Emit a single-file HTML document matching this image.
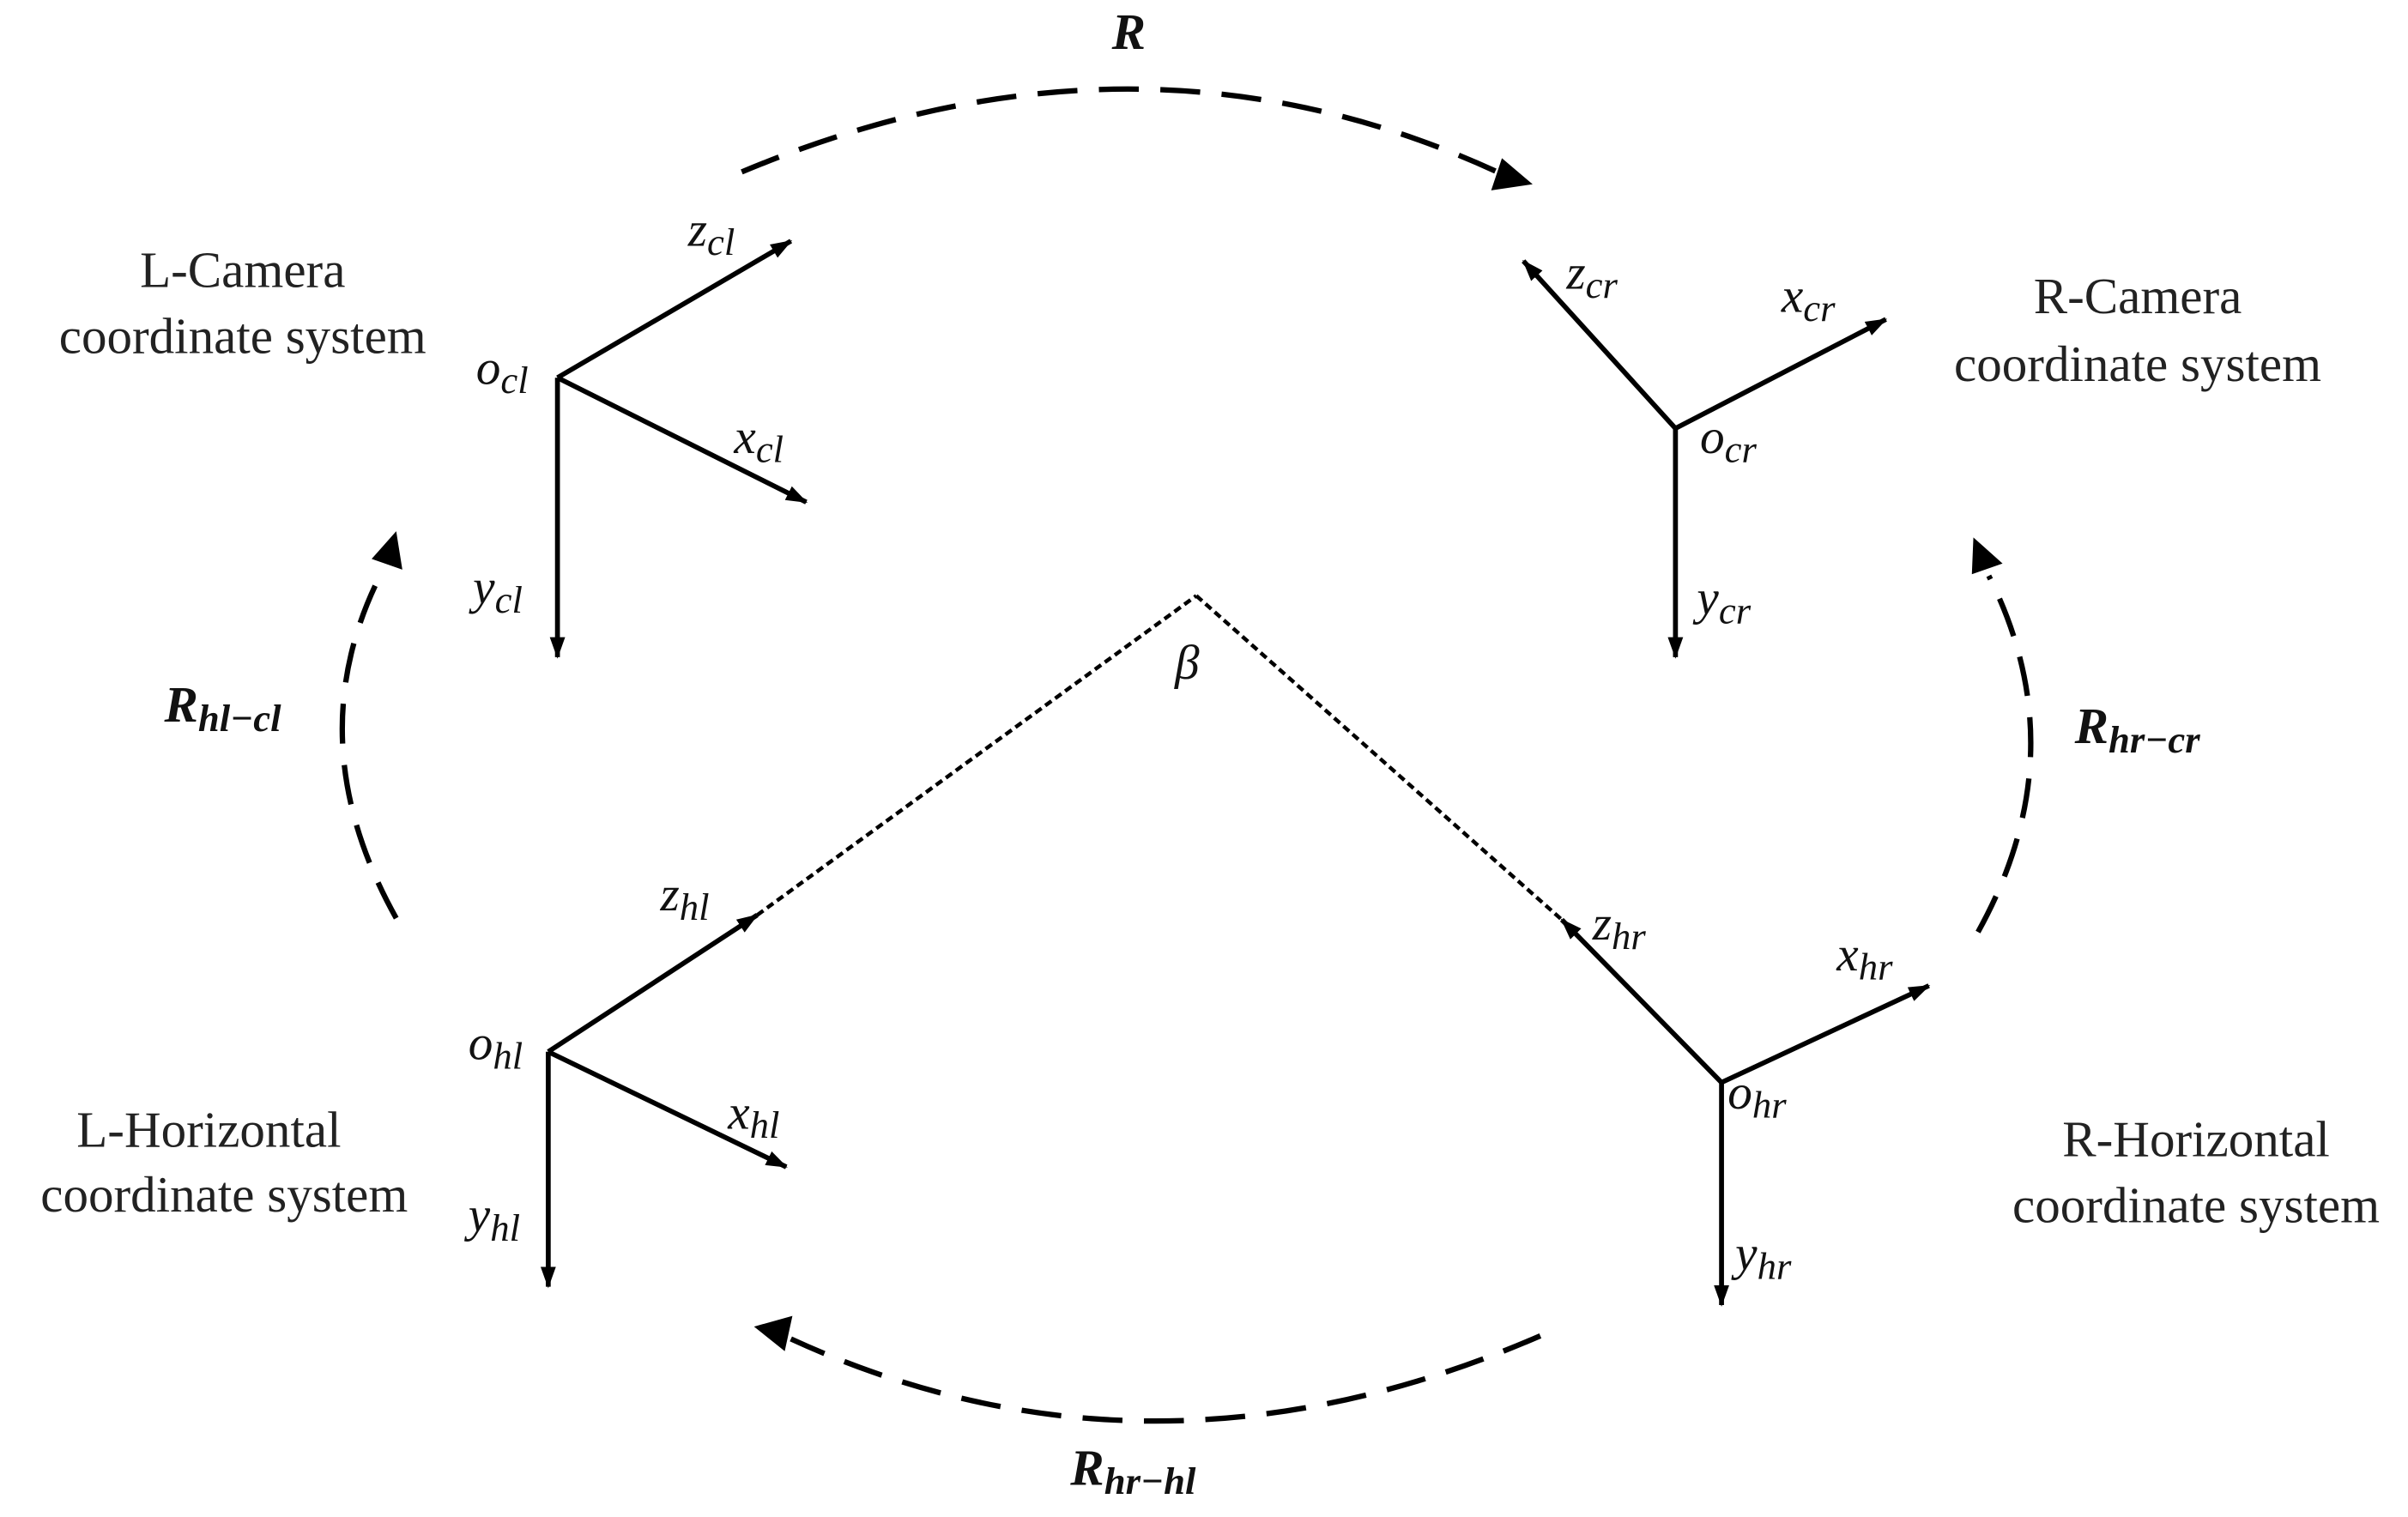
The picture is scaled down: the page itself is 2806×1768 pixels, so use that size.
<!DOCTYPE html>
<html><head><meta charset="utf-8"><style>
html,body{margin:0;padding:0;background:#fff;}
svg{display:block;}
.t{font-family:"Liberation Serif",serif;font-size:33px;fill:#222;}
.m{font-family:"Liberation Serif",serif;font-style:italic;font-size:32px;fill:#111;}
.s{font-size:25px;}
.b{font-family:"Liberation Serif",serif;font-style:italic;font-weight:bold;font-size:33px;fill:#111;}
</style></head><body>
<svg width="2806" height="1768" viewBox="0 0 1568 988" preserveAspectRatio="none" xmlns="http://www.w3.org/2000/svg">
<defs>
<marker id="a" markerWidth="14" markerHeight="14" refX="13" refY="7" orient="auto" markerUnits="userSpaceOnUse"><path d="M0,2 L14,7 L0,12 z" fill="#000"/></marker>
</defs>
<g stroke="#000" stroke-width="3.2" fill="none" marker-end="url(#a)">
<line x1="363" y1="246" x2="515" y2="157"/>
<line x1="363" y1="246" x2="525" y2="327"/>
<line x1="363" y1="246" x2="363" y2="428"/>
<line x1="1091" y1="279" x2="992" y2="170"/>
<line x1="1091" y1="279" x2="1228" y2="208"/>
<line x1="1091" y1="279" x2="1091" y2="428"/>
<line x1="357" y1="685" x2="493" y2="596"/>
<line x1="357" y1="685" x2="512" y2="760"/>
<line x1="357" y1="685" x2="357" y2="838"/>
<line x1="1121" y1="705" x2="1017" y2="599"/>
<line x1="1121" y1="705" x2="1256" y2="642"/>
<line x1="1121" y1="705" x2="1121" y2="850"/>
</g>
<g stroke="#000" stroke-width="2.5" stroke-dasharray="5,3" fill="none">
<line x1="493" y1="596" x2="779" y2="388"/>
<line x1="779" y1="388" x2="1017" y2="599"/>
</g>
<g stroke="#000" stroke-width="3.5" stroke-dasharray="26,14" fill="none">
<path d="M483,112 Q740,4 975,112"/>
<path d="M258,598 Q192,480 250,370"/>
<path d="M1288,607 Q1353,490 1295,375"/>
<path d="M1003,870 Q750,980 515,872"/>
</g>
<g fill="#000">
<path d="M998,120 L971,124 L978,103 z"/>
<path d="M258,346 L262,371 L242,364 z"/>
<path d="M1285,350 L1304,367 L1284,374 z"/>
<path d="M491,864 L516,857 L511,880 z"/>
</g>
<text class="t" x="158" y="187" text-anchor="middle">L-Camera</text>
<text class="t" x="158" y="230" text-anchor="middle">coordinate system</text>
<text class="t" x="1392" y="204" text-anchor="middle">R-Camera</text>
<text class="t" x="1392" y="248" text-anchor="middle">coordinate system</text>
<text class="t" x="136" y="747" text-anchor="middle">L-Horizontal</text>
<text class="t" x="146" y="789" text-anchor="middle">coordinate system</text>
<text class="t" x="1430" y="753" text-anchor="middle">R-Horizontal</text>
<text class="t" x="1430" y="796" text-anchor="middle">coordinate system</text>
<text class="m" x="448" y="160">z<tspan class="s" dy="6">cl</tspan></text>
<text class="m" x="310" y="250">o<tspan class="s" dy="6">cl</tspan></text>
<text class="m" x="478" y="295">x<tspan class="s" dy="6">cl</tspan></text>
<text class="m" x="308" y="393">y<tspan class="s" dy="6">cl</tspan></text>
<text class="m" x="1020" y="188">z<tspan class="s" dy="6">cr</tspan></text>
<text class="m" x="1160" y="203">x<tspan class="s" dy="6">cr</tspan></text>
<text class="m" x="1107" y="295">o<tspan class="s" dy="6">cr</tspan></text>
<text class="m" x="1105" y="400">y<tspan class="s" dy="6">cr</tspan></text>
<text class="m" x="430" y="593">z<tspan class="s" dy="6">hl</tspan></text>
<text class="m" x="305" y="690">o<tspan class="s" dy="6">hl</tspan></text>
<text class="m" x="474" y="735">x<tspan class="s" dy="6">hl</tspan></text>
<text class="m" x="305" y="802">y<tspan class="s" dy="6">hl</tspan></text>
<text class="m" x="1037" y="612">z<tspan class="s" dy="6">hr</tspan></text>
<text class="m" x="1196" y="632">x<tspan class="s" dy="6">hr</tspan></text>
<text class="m" x="1125" y="722">o<tspan class="s" dy="6">hr</tspan></text>
<text class="m" x="1130" y="827">y<tspan class="s" dy="6">hr</tspan></text>
<text class="m" x="765" y="442" fill="#444">β</text>
<text class="b" x="724" y="32">R</text>
<text class="b" x="107" y="470">R<tspan class="s" dy="6">hl−cl</tspan></text>
<text class="b" x="1351" y="484">R<tspan class="s" dy="6">hr−cr</tspan></text>
<text class="b" x="697" y="967">R<tspan class="s" dy="6">hr−hl</tspan></text>
</svg>
</body></html>
